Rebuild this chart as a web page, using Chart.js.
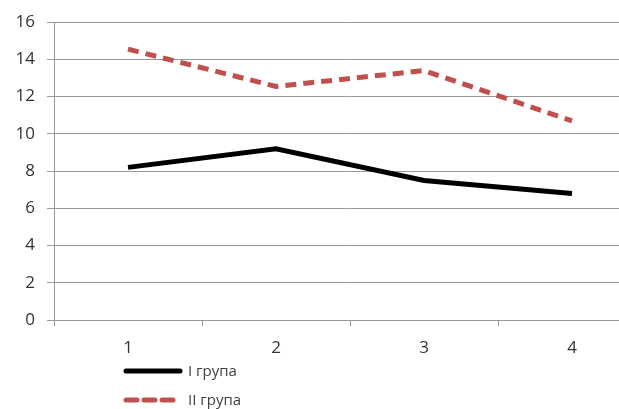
<!DOCTYPE html>
<html>
<head>
<meta charset="utf-8">
<script src="https://cdn.jsdelivr.net/npm/chart.js@4"></script>
<style>
  html, body { margin: 0; padding: 0; background: #fff; overflow: hidden; }
  #wrap { width: 619px; height: 409px; overflow: hidden; }
</style>
</head>
<body>
<div id="wrap"><canvas id="grafica" width="646" height="409"></canvas></div>
<script>
const categorias = ["1", "2", "3", "4"];
const grupa1 = [8.2, 9.2, 7.5, 6.8];
const grupa2 = [14.55, 12.55, 13.4, 10.7];
const nombres = ["I група", "II група"];

const fuente = "'Open Sans', Lato, sans-serif";

// leyenda dibujada a mano, en columna bajo el eje
const leyenda = {
  id: "leyenda",
  afterDraw(chart) {
    const ctx = chart.ctx;
    ctx.save();
    chart.data.datasets.forEach((ds, i) => {
      const y = 371 + i * 29;
      ctx.beginPath();
      ctx.strokeStyle = ds.borderColor;
      ctx.lineWidth = ds.borderWidth;
      ctx.setLineDash(ds.borderDash || []);
      ctx.lineCap = "round";
      ctx.moveTo(126, y);
      ctx.lineTo(180, y);
      ctx.stroke();
      ctx.setLineDash([]);
      ctx.fillStyle = "#404040";
      ctx.font = "15px " + fuente;
      ctx.textBaseline = "middle";
      ctx.fillText(ds.label, 188, y + 1);
    });
    ctx.restore();
  }
};

let miGrafica = document.getElementById("grafica").getContext("2d");

var chart = new Chart(miGrafica, {
  type: "line",
  data: {
    labels: categorias,
    datasets: [
      {
        label: nombres[0],
        data: grupa1,
        borderColor: "#000000",
        borderWidth: 5,
        pointRadius: 0,
        tension: 0
      },
      {
        label: nombres[1],
        data: grupa2,
        borderColor: "#c0504d",
        borderWidth: 5,
        borderDash: [11, 7],
        pointRadius: 0,
        tension: 0
      }
    ]
  },
  options: {
    responsive: false,
    animation: false,
    layout: { padding: { top: 20, right: 0, bottom: 0, left: 0 } },
    plugins: {
      legend: { display: false },
      tooltip: { enabled: false }
    },
    scales: {
      x: {
        offset: true,
        grid: {
          offset: true,
          drawOnChartArea: false,
          drawTicks: true,
          tickLength: 6,
          color: "#999999",
          lineWidth: 1
        },
        border: { color: "#999999", width: 1 },
        ticks: {
          color: "#333333",
          font: { family: fuente, size: 17 },
          padding: 12
        },
        afterFit(scale) { scale.height = 89; }
      },
      y: {
        min: 0,
        max: 16,
        ticks: {
          stepSize: 2,
          color: "#333333",
          font: { family: fuente, size: 17 },
          padding: 12
        },
        grid: {
          color: "#999999",
          lineWidth: 1,
          drawTicks: true,
          tickLength: 7
        },
        border: { color: "#999999", width: 1 },
        afterFit(scale) { scale.width = 54; }
      }
    }
  },
  plugins: [leyenda]
});
</script>
</body>
</html>
